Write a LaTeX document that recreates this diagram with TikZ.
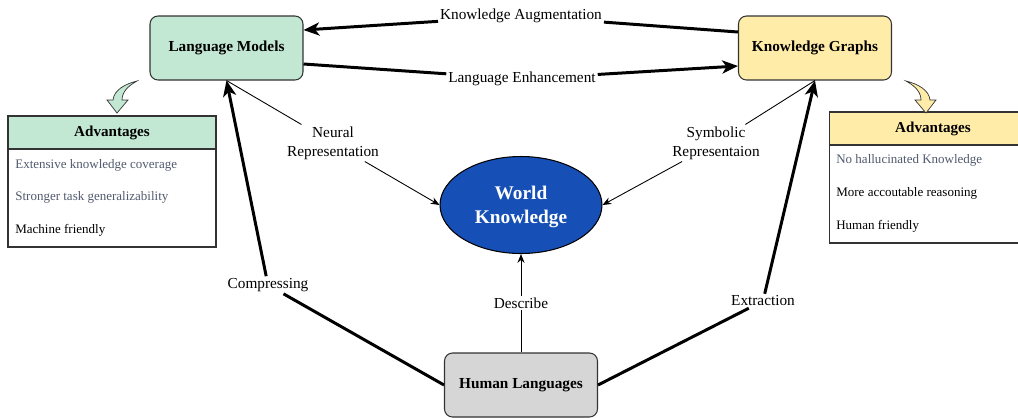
\documentclass[tikz,border=0pt]{standalone}
\usepackage{fontspec}
\setmainfont{Liberation Serif}
\usetikzlibrary{arrows.meta,shapes.geometric,positioning}
\definecolor{lmgreen}{RGB}{194,232,212}
\definecolor{kgyellow}{RGB}{255,236,168}
\definecolor{hlgray}{RGB}{214,214,214}
\definecolor{wkblue}{RGB}{22,80,182}
\definecolor{rowgray}{RGB}{80,90,110}

\begin{document}
\begin{tikzpicture}[
        x=0.02cm, y=-0.02cm,
        box/.style={draw=black!80, line width=0.6pt, rounded corners=0.16cm, minimum width=3.06cm, minimum height=1.28cm, align=center, font=\fontsize{8.7}{10}\selectfont\bfseries},
        lbl/.style={fill=white, inner sep=1pt, align=center, font=\fontsize{8.7}{10.8}\selectfont},
        bigarrow/.style={line width=1.7pt, -{Stealth[length=9pt,width=7.5pt,inset=2.5pt]}},
        thinarrow/.style={line width=0.5pt, -{Stealth[length=5pt,width=4pt]}},
        advhead/.style={draw=black!80, line width=0.6pt, minimum width=4.16cm, minimum height=0.66cm, font=\fontsize{8.6}{10}\selectfont\bfseries},
        advbody/.style={draw=black!80, line width=0.6pt, fill=white, minimum width=4.16cm, minimum height=1.96cm},
        advrow/.style={anchor=west, inner sep=0pt, font=\fontsize{7.4}{9}\selectfont}
    ]
        \useasboundingbox (0,0) rectangle (1018,417);

        % Main nodes
        \node[box, fill=lmgreen] (lm) at (226.5,48) {Language Models};
        \node[box, fill=kgyellow] (kg) at (815,48) {Knowledge Graphs};
        \node[box, fill=hlgray] (hl) at (521,385) {Human Languages};
        \node[ellipse, draw=black, line width=0.6pt, fill=wkblue, text=white, minimum width=3.24cm, minimum height=1.94cm, inner sep=0pt, text depth=0pt, align=center, font=\fontsize{11}{13.6}\selectfont\bfseries] (wk) at (521,205) {World\\Knowledge};

        % Connector labels
        \node[lbl] (ka) at (521,16) {Knowledge Augmentation};
        \node[lbl] (le) at (522,79) {Language Enhancement};
        \node[lbl] (comp) at (268,285) {Compressing};
        \node[lbl] (extr) at (763,301) {Extraction};
        \node[lbl] (neur) at (333,143) {Neural\\Representation};
        \node[lbl] (symb) at (716,143) {Symbolic\\Representaion};

        % Thick connectors
        \draw[bigarrow] ([yshift=0.32cm]kg.west) -- (ka) -- ([yshift=0.36cm]lm.east);
        \draw[bigarrow] ([yshift=-0.32cm]lm.east) -- (le) -- ([yshift=-0.36cm]kg.west);
        \draw[bigarrow] (hl.west) -- (comp) -- (lm.south);
        \draw[bigarrow] (hl.east) -- (extr) -- (kg.south);

        % Thin connectors
        \draw[line width=0.5pt] (lm.south) -- (neur);
        \draw[thinarrow] (neur) -- (wk.west);
        \draw[line width=0.5pt] (kg.south) -- (symb);
        \draw[thinarrow] (symb) -- (wk.east);
        \draw[thinarrow] (hl) -- node[lbl] (desc) {Describe} (wk);

        % Advantages of language models
        \node[advbody] (lmbody) at (112,198) {};
        \node[advhead, fill=lmgreen] (lmadv) at (112,132.5) {Advantages};
        \node[advrow, text=rowgray] (lmrow1) at (15,165) {Extensive knowledge coverage};
        \node[advrow, text=rowgray] (lmrow2) at (15,197) {Stronger task generalizability};
        \node[advrow] (lmrow3) at (15,230) {Machine friendly};
        \filldraw[fill=lmgreen, draw=black!80, line width=0.4pt] (137,81) .. controls (125,84) and (114,90) .. (113,100) -- (107,100) -- (117,113) -- (128,100) -- (122,100) .. controls (122,92) and (128,86) .. (137,81) -- cycle;

        % Advantages of knowledge graphs
        \node[advbody] (kgbody) at (933,194) {};
        \node[advhead, fill=kgyellow] (kgadv) at (933,128.5) {Advantages};
        \node[advrow, text=rowgray] (kgrow1) at (836,160) {No hallucinated Knowledge};
        \node[advrow] (kgrow2) at (836,193) {More accoutable reasoning};
        \node[advrow] (kgrow3) at (836,226) {Human friendly};
        \filldraw[fill=kgyellow, draw=black!80, line width=0.4pt] (906,81) .. controls (918,84) and (929,90) .. (930,100) -- (936,100) -- (926,113) -- (915,100) -- (921,100) .. controls (921,92) and (915,86) .. (906,81) -- cycle;
    \end{tikzpicture}
\end{document}
